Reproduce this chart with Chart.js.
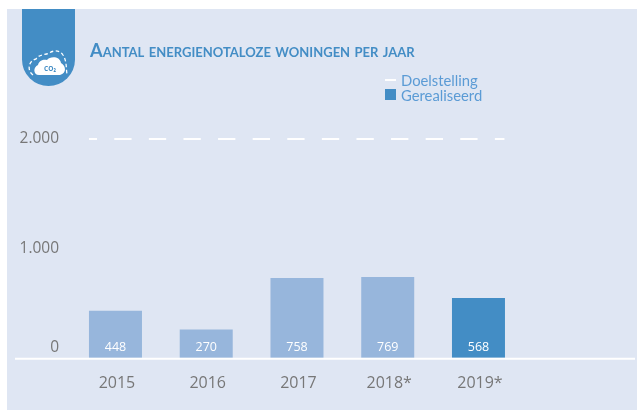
<!DOCTYPE html>
<html><head><meta charset="utf-8">
<script src="https://cdn.jsdelivr.net/npm/chart.js@4"></script>
<style>
html,body{margin:0;padding:0;background:#fff;width:637px;height:411px;overflow:hidden;font-family:"Open Sans",sans-serif}
#panel{position:absolute;left:7px;top:9px;width:630px;height:401px;background:#dfe6f3}
#wrap{position:absolute;left:0;top:0;width:637px;height:411px}
#badge{position:absolute;left:22px;top:9px}
#title{position:absolute;left:90px;top:39px;font-family:Lato,sans-serif;font-size:18.2px;font-weight:700;font-variant:small-caps;color:#438dc5;white-space:nowrap}
.lg{position:absolute;left:401px;font-family:Lato,sans-serif;font-size:14.8px;color:#5b9bd5;white-space:nowrap;line-height:16px}
.sw{position:absolute;left:385px;width:11px}
</style></head><body>
<div id="panel"></div>
<div id="wrap"><canvas id="c" width="637" height="411"></canvas></div>
<svg id="badge" width="53" height="77" viewBox="0 0 53 77">
<path d="M0 0H53V50.500A26.500 26.500 0 0 1 0 50.500Z" fill="#438dc5"/>
<path d="M17 66C11 66 11 58 16 56C17 51 22 50 25 51C28 47 38 47 39 54C44 57 45 64 38 66Z" fill="#fff"/>
<path d="M11 66C5 62 6 52 14 50C17 45 24 46 27 44C32 41 38 41 41 46C45 52 44 60 45 65" fill="none" stroke="#fff" stroke-width="1.300" stroke-dasharray="3.500 2.500"/>
<text x="28" y="61.500" font-size="6.500" font-weight="700" text-anchor="middle" fill="#438dc5" font-family="Open Sans">CO₂</text>
</svg>
<div id="title">Aantal energienotaloze woningen per jaar</div>
<div class="sw" style="top:79px;height:2px;background:#fff"></div>
<div class="lg" style="top:72px">Doelstelling</div>
<div class="sw" style="top:89px;height:11px;background:#438dc5"></div>
<div class="lg" style="top:87px">Gerealiseerd</div>
<script>
const categories = ['2015','2016','2017','2018*','2019*',''];
const realised = [448,270,758,769,568,null];
const barColours = ['#97b6dc','#97b6dc','#97b6dc','#97b6dc','#438dc5','#97b6dc'];
const targetValues = [2000,2000];
const targetPositions = [-0.292,4.286];
const yTicks = [0,1000,2000];
const fmt = v => String(v).replace(/\B(?=(\d{3})+$)/,'.');
const extras = {
  id:'extras',
  beforeDatasetsDraw(ch){
    const c=ch.ctx,y=ch.chartArea.bottom+1;
    c.save();c.strokeStyle='#fff';c.lineWidth=2;c.beginPath();c.moveTo(15,y);c.lineTo(635,y);c.stroke();c.restore();
  },
  afterDatasetsDraw(ch){
    const c=ch.ctx,m=ch.getDatasetMeta(0);
    c.save();c.fillStyle='#fff';c.font='500 12.5px "Open Sans"';c.textAlign='center';c.textBaseline='middle';
    m.data.forEach((b,i)=>{if(realised[i]!=null)c.fillText(realised[i],b.x,ch.chartArea.bottom-10.5);});
    c.restore();
  }
};
new Chart(document.getElementById('c'),{
  type:'bar',
  data:{labels:categories,datasets:[
    {type:'bar',label:'Gerealiseerd',data:realised,backgroundColor:barColours,grouped:false,categoryPercentage:1,barPercentage:0.584,xAxisID:'x',yAxisID:'yBars',order:2},
    {type:'line',label:'Doelstelling',data:targetValues.map((v,i)=>({x:targetPositions[i],y:v})),xAxisID:'xLine',yAxisID:'y',
     borderColor:'#fff',borderWidth:2,borderDash:[17.3,17.3],borderDashOffset:9.3,pointRadius:0,clip:false,order:1}
  ]},
  options:{
    responsive:false,animation:false,
    layout:{padding:{left:0,right:22.4,top:139,bottom:10}},
    plugins:{legend:{display:false},title:{display:false},tooltip:{enabled:false}},
    scales:{
      x:{type:'category',offset:true,grid:{display:false},border:{display:false},ticks:{color:'#777',font:{family:'Open Sans',size:16},padding:8,labelOffset:1.5,maxRotation:0,autoSkip:false}},
      xLine:{type:'linear',display:false,offset:false,min:-0.5,max:5.5},
      y:{type:'linear',min:0,max:2000,afterBuildTicks(s){s.ticks=yTicks.map(v=>({value:v}));},afterFit(s){s.width=70.1;},grid:{display:false},border:{display:false},
         ticks:{color:'#777',font:{family:'Open Sans',size:15.5,lineHeight:1.3},padding:3,callback:v=>v===0?['0','']:fmt(v)}},
      yBars:{type:'linear',display:false,min:0,max:2081}
    }
  },
  plugins:[extras]
});
</script>
</body></html>
